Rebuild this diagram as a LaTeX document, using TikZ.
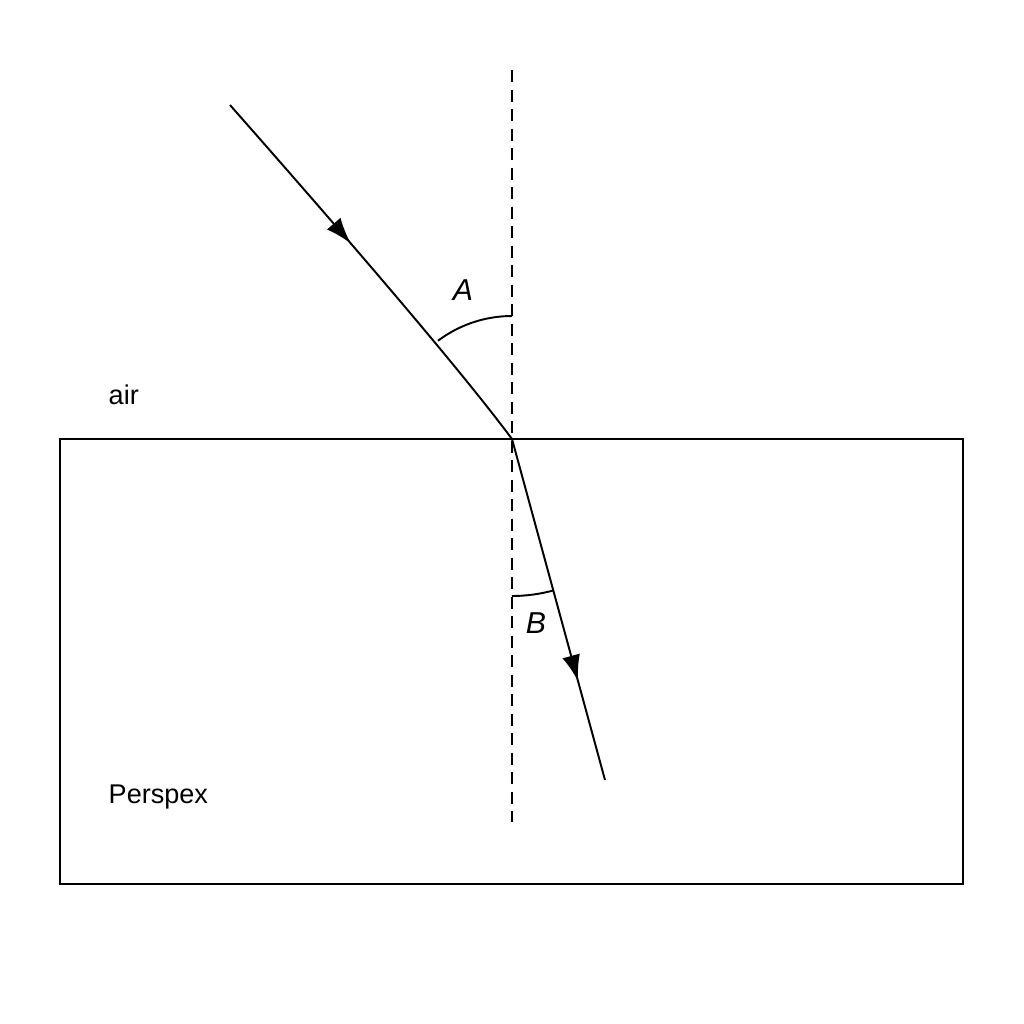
\documentclass[tikz,border=0pt]{standalone}
\usepackage{fontspec}
\setmainfont{Liberation Sans}
\usepackage{tikz}
\usetikzlibrary{decorations.markings,arrows.meta}

\tikzset{
	ray/.style={line width=0.55pt,postaction={decorate},decoration={markings,mark=at position #1 with {\arrow{Latex[length=2.6mm,width=1.8mm]}}}},
	normalline/.style={line width=0.55pt,dash pattern=on 1.2mm off 0.75mm},
	lbl/.style={font=\fontsize{7.7}{9}\selectfont,inner sep=0pt},
	anglbl/.style={font=\fontsize{8.6}{10}\selectfont\itshape,inner sep=0pt}
}

\begin{document}
\begin{tikzpicture}
	\useasboundingbox (0,0) rectangle (10.24,-10.24);
	\coordinate (O) at (5.12,-4.39);
	\coordinate (src) at (2.30,-1.05);
	\coordinate (dst) at (6.05,-7.80);
	\coordinate (ntop) at (5.12,-0.70);
	\coordinate (nbot) at (5.12,-8.22);
	\draw[line width=0.55pt] (0.60,-4.39) rectangle (9.63,-8.84);
	\draw[normalline] (ntop) -- (nbot);
	\draw[ray=0.42] (src) .. controls (3.71,-2.65) and (4.65,-3.76) .. (O);
	\draw[ray=0.71] (O) -- (dst);
	\draw[line width=0.55pt] (5.12,-3.16) arc (90:127:1.23);
	\draw[line width=0.55pt] (5.12,-5.96) arc (270:285.3:1.57);
	\node[anglbl] (A) at (4.63,-2.90) {A};
	\node[anglbl] (B) at (5.36,-6.23) {B};
	\node[lbl,anchor=west] (air) at (1.08,-3.95) {air};
	\node[lbl,anchor=west] (perspex) at (1.08,-7.97) {Perspex};
\end{tikzpicture}
\end{document}
